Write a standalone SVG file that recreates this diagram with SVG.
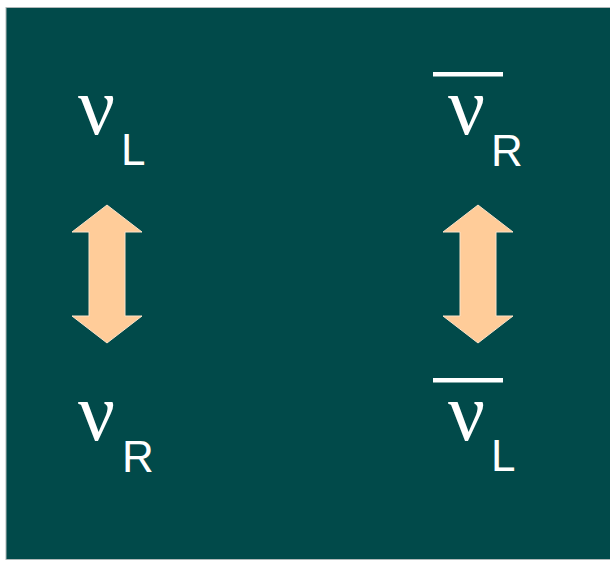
<svg xmlns="http://www.w3.org/2000/svg" width="610" height="563" viewBox="0 0 610 563">
  <defs>
    <style>
      .nu { font-family: "Liberation Serif", "Times New Roman", serif; font-size: 82px; fill: #ffffff; }
      .sub { font-family: "Liberation Sans", Arial, sans-serif; font-size: 44px; fill: #ffffff; }
      .bar { fill: #ffffff; }
      .dbl { fill: #ffcc99; stroke: #fbe3c9; stroke-width: 1; }
    </style>
    <!-- double-headed arrow centred on x=0, spanning y 205..343 -->
    <path id="updown" d="M0,205 L35,232 L18,232 L18,316 L35,316 L0,343 L-35,316 L-18,316 L-18,232 L-35,232 Z"/>
  </defs>

  <rect x="0" y="0" width="610" height="563" fill="#ffffff"/>
  <rect x="6" y="7.5" width="605" height="552" fill="#014a4a" stroke="#b0b8b8" stroke-width="1"/>

  <g id="nu-L">
    <text class="nu" x="78" y="134">ν</text>
    <text class="sub" x="121" y="165">L</text>
  </g>

  <g id="nu-R">
    <text class="nu" x="78" y="440">ν</text>
    <text class="sub" x="122" y="472">R</text>
  </g>

  <g id="antinu-R">
    <rect class="bar" x="433" y="72" width="70" height="4.5"/>
    <text class="nu" x="448" y="134">ν</text>
    <text class="sub" x="491" y="166">R</text>
  </g>

  <g id="antinu-L">
    <rect class="bar" x="433" y="378" width="70" height="4.5"/>
    <text class="nu" x="448" y="440">ν</text>
    <text class="sub" x="491" y="471">L</text>
  </g>

  <g id="connectors">
    <use href="#updown" class="dbl" transform="translate(107,0)"/>
    <use href="#updown" class="dbl" transform="translate(478,0)"/>
  </g>
</svg>
